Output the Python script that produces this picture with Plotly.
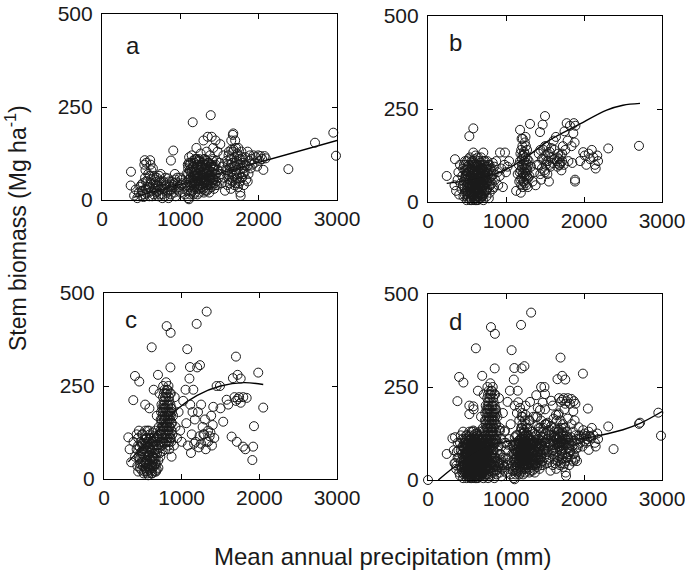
import plotly.graph_objects as go
from plotly.subplots import make_subplots

# ---------------- data ----------------
# Panel a: (mean annual precipitation mm, stem biomass Mg/ha)
a_points = [
    (370,76),(366,39),(410,12),(430,28),(450,5),(470,20),(490,35),(500,12),(510,25),(520,45),
    (530,8),(540,95),(545,107),(550,60),(555,80),(560,30),(565,100),(570,18),(580,50),(590,70),
    (600,35),(605,10),(615,107),(620,95),(625,55),(630,80),(640,25),(650,42),(660,15),(665,65),
    (675,30),(685,48),(695,20),(700,60),(710,38),(720,10),(730,52),(740,28),(750,70),(760,35),
    (775,15),(785,50),(800,30),(815,45),(830,20),(845,58),(860,35),(875,25),(880,106),(890,50),
    (905,40),(910,133),(920,20),(935,55),(950,30),(965,45),(980,25),(995,60),(1010,40),(1025,55),
    (1040,30),
    (1060,15),(1070,45),(1080,70),(1090,25),(1095,95),(1100,5),(1105,55),(1110,2),(1112,115),
    (1115,35),(1120,80),(1125,15),(1130,100),(1135,60),(1140,40),(1145,120),(1150,75),(1158,209),
    (1160,25),(1165,50),(1170,90),(1175,35),(1180,65),(1185,110),(1190,20),(1195,80),(1200,45),
    (1205,140),(1210,60),(1215,95),(1220,30),(1225,70),(1230,50),(1235,105),(1240,85),(1245,20),
    (1250,65),(1255,40),(1260,125),(1265,90),(1270,55),(1275,75),(1280,35),(1285,100),(1290,60),
    (1295,160),(1300,80),(1305,45),(1310,110),(1315,25),(1320,70),(1325,95),(1330,55),(1335,130),
    (1340,85),(1345,40),(1350,170),(1355,65),(1360,100),(1365,50),(1370,80),(1380,120),(1388,228),
    (1390,60),(1395,95),(1400,170),(1405,45),(1410,75),(1415,110),(1420,140),(1430,55),(1440,90),
    (1450,160),(1455,70),(1460,105),(1470,40),(1475,130),(1480,80),(1490,60),(1500,100),(1510,150),
    (1520,70),(1530,45),(1540,90),(1550,120),(1560,60),(1570,25),(1580,80),(1590,105),
    (1600,40),(1605,70),(1610,95),(1620,130),(1625,55),(1630,85),(1640,110),(1645,30),(1650,160),
    (1655,75),(1660,100),(1665,50),(1670,175),(1676,179),(1680,135),(1685,65),(1690,115),(1695,90),
    (1700,160),(1705,45),(1710,140),(1715,80),(1720,105),(1725,60),(1730,125),(1735,35),(1740,95),
    (1750,70),(1755,110),(1760,50),(1765,20),(1770,11),(1775,85),(1780,130),(1790,60),(1800,100),
    (1810,40),(1820,75),(1830,115),(1840,55),(1850,90),(1860,130),(1870,70),(1880,105),(1890,120),
    (1900,85),(1910,110),(1920,95),(1935,120),(1950,100),(1965,115),(1980,90),(1995,120),(2010,105),
    (2025,118),(2045,110),(2060,81),(2075,118),(2090,112),
    (2379,83),(2719,154),(2953,181),(2987,119),
    # dense middle cluster
    (1090,40),(1100,70),(1110,100),(1120,55),(1130,25),(1140,85),(1150,45),(1160,65),(1170,15),
    (1180,100),(1190,50),(1200,75),(1210,35),(1220,90),(1230,60),(1240,110),(1250,30),(1260,80),
    (1270,45),(1280,65),(1290,95),(1300,20),(1310,55),(1320,85),(1330,40),(1340,70),(1350,100),
    (1360,30),(1370,60),(1380,90),(1390,45),(1400,75),(1410,105),(1420,55),(1430,30),(1440,70),
    (1450,95),(1120,95),(1140,20),(1160,105),(1180,30),(1200,110),(1220,65),(1240,40),(1260,55),
    (1280,90),(1300,110),(1320,45),(1340,25),(1360,80),(1380,65),(1400,35),(1420,90),(1440,45),
    (1175,75),(1215,50),(1255,95),(1295,70),(1335,105),(1375,40),(1415,60),
    (1100,85),(1130,50),(1160,90),(1190,65),(1220,15),(1250,105),(1280,50),(1310,95),(1340,55),
    (1370,100),(1400,60),(1430,85),(1460,50),(1130,75),(1170,45),(1210,110),(1250,50),(1290,30),
    (1330,75),(1370,20),(1410,90),(1450,40),
    # dense left cluster
    (500,40),(520,25),(540,15),(560,50),(580,35),(600,20),(620,45),(640,10),(660,30),(680,55),
    (700,25),(720,40),(740,15),(760,50),(780,30),(800,10),(820,40),(840,25),(860,50),(880,15),
    (900,35),(920,45),(940,10),(960,60),(980,35),(1000,20),(1020,45),(610,65),(650,85),(690,40),
    (730,65),(770,5),(810,60),(850,5),(890,30),(930,70),
    # dense right cluster
    (1600,80),(1615,120),(1630,45),(1645,95),(1660,60),(1675,130),(1690,40),(1705,100),(1720,70),
    (1735,120),(1750,45),(1765,95),(1780,60),(1795,115),(1810,85),(1620,65),(1650,135),(1680,90),
    (1710,55),(1740,140),(1770,110),(1800,70),(1830,95),(1860,50),
]

b_points = [
    (240,70),(346,115),(530,177),(581,198),(709,133),(581,133),(923,133),(987,133),
    (340,45),(360,30),(380,60),(390,80),(400,20),(410,100),(420,50),(430,35),(440,70),(450,90),
    (455,15),(460,55),(470,40),(475,110),(480,25),(485,75),(490,60),(495,5),(500,45),(505,95),
    (510,30),(515,65),(520,15),(525,80),(530,50),(535,120),(540,35),(545,70),(550,10),(555,55),
    (560,90),(565,25),(570,40),(575,105),(580,65),(585,20),(590,50),(595,80),(600,10),(600,35),
    (605,60),(610,125),(612,95),(615,45),(620,20),(620,75),(625,5),(628,55),(630,100),(635,35),
    (640,65),(645,15),(648,85),(650,45),(655,110),(660,25),(665,60),(670,40),(675,90),(680,10),
    (685,70),(690,50),(695,30),(700,100),(705,60),(710,20),(715,80),(720,45),(730,110),(735,65),
    (740,30),(750,90),(760,55),(770,75),(780,40),(790,100),(800,65),(810,85),(820,50),(830,105),
    (840,75),(850,95),(860,60),(875,110),(890,80),(900,45),(920,70),(940,90),(960,40),(980,100),
    (1000,80),(1020,95),(1040,110),
    (540,20),(560,45),(580,30),(600,60),(620,40),(640,25),(660,50),(680,35),(700,15),(560,65),
    (590,15),(610,30),(630,15),(650,70),(670,20),(690,85),(610,5),(600,85),(575,55),(640,45),
    # dense blob
    (470,60),(490,85),(510,50),(530,100),(550,70),(570,55),(590,100),(610,70),(630,55),(650,95),
    (670,75),(690,65),(710,45),(730,80),(750,60),(770,100),(790,55),(500,20),(520,40),(540,85),
    (560,110),(580,85),(600,115),(620,100),(640,120),(660,90),(680,55),(700,75),(720,100),(740,70),
    (760,35),(780,85),(800,45),(450,45),(470,85),(490,30),(510,80),(530,25),(550,40),(570,75),
    (590,35),(610,55),(630,80),(650,25),(670,105),(690,15),(710,110),(730,50),(750,30),(480,100),
    (520,115),(560,5),(600,25),(640,5),(680,90),(720,25),(760,80),(620,85),(580,110),(540,60),
    (660,10),(700,40),
    (460,100),(480,70),(500,110),(520,60),(540,45),(560,80),(580,45),(600,95),(620,60),(640,85),
    (660,70),(680,120),(700,60),(720,85),(740,50),(760,95),(780,65),(800,90),(820,70),(840,40),
    (470,20),(510,10),(550,25),(590,5),(630,30),(670,50),(710,5),(750,15),(790,25),(830,35),
    (520,90),(560,20),(600,45),(640,100),(680,20),(720,60),(760,110),(500,75),(540,5),(580,15),
    (620,10),(660,35),(700,90),(740,95),(780,10),
    (1130,30),(1150,75),(1165,100),(1170,55),(1180,194),(1185,130),(1190,85),(1195,45),(1200,65),
    (1205,115),(1210,150),(1212,80),(1215,170),(1220,55),(1225,100),(1230,135),(1235,70),(1240,90),
    (1242,160),(1245,50),(1250,120),(1255,75),(1260,105),(1265,60),(1270,140),(1275,85),(1280,40),
    (1290,110),(1300,70),(1308,210),(1320,95),(1340,55),(1360,80),(1380,45),(1400,100),
    (1175,80),(1185,60),(1195,140),(1205,95),(1215,40),(1225,125),(1235,110),(1245,80),(1255,150),
    (1265,90),(1275,115),(1285,65),(1180,110),(1200,170),(1220,75),(1240,130),(1260,45),(1280,100),
    (1190,25),(1230,55),(1250,175),(1270,70),(1210,125),(1250,100),
    (1420,130),(1436,188),(1450,60),(1460,115),(1470,208),(1480,140),(1490,85),(1500,231),(1505,125),
    (1510,100),(1520,150),(1530,75),(1540,110),(1550,55),(1560,135),(1570,95),(1580,120),(1600,105),
    (1610,165),(1620,140),(1640,175),(1650,110),
    (1420,100),(1440,140),(1460,90),(1480,115),(1500,150),(1520,110),(1540,130),(1560,100),(1580,145),
    (1620,115),(1660,120),(1680,100),(1700,105),(1720,130),(1440,75),(1500,80),
    (1660,95),(1670,130),(1680,115),(1690,100),(1700,125),(1710,85),(1720,110),(1730,150),(1740,100),
    (1750,190),(1760,140),(1778,212),(1790,165),(1800,110),(1820,205),(1840,150),(1850,105),(1863,185),
    (1870,212),(1880,160),(1885,55),(1885,60),(1890,205),
    (1950,110),(1990,134),(2010,125),(2030,100),(2060,130),(2080,115),(2100,140),(2120,120),(2140,100),
    (2150,90),(2170,125),(2180,110),(2311,144),(2705,151),
]

c_points = [
    (313,112),(330,80),(350,45),(377,212),(380,100),(399,277),(400,60),(420,120),(430,35),(440,90),
    (450,130),(454,262),(460,55),(470,100),(480,25),(490,75),(500,120),(505,45),(510,15),(520,90),
    (525,60),(530,200),(535,30),(540,110),(545,75),(550,20),(555,50),(560,130),(565,95),(570,10),
    (575,65),(580,40),(585,190),(590,85),(595,25),(600,55),(605,110),(610,30),(614,354),(615,75),
    (620,15),(625,45),(630,100),(635,60),(640,240),(645,35),(650,80),(655,20),(660,130),(665,55),
    (670,90),(675,40),(680,170),(685,70),(690,110),(695,280),(700,50),(705,140),(710,85),(715,230),
    (720,100),(725,60),(730,160),(735,120),(740,200),(745,90),(750,140),(755,75),(760,180),(762,250),
    (765,110),(770,130),(775,210),(780,95),(785,160),(790,140),(795,190),(800,120),(805,230),(807,411),
    (810,170),(815,100),(820,150),(825,200),(830,130),(835,180),(840,80),(845,160),(850,140),(855,300),
    (858,393),(860,110),(865,190),(870,60),(875,150),(880,120),(890,170),(900,90),(910,220),(920,140),
    (940,110),(960,180),(980,130),(1000,100),(1020,210),(1050,240),(1060,150),(1072,349),(1080,90),
    (1100,270),(1107,301),(1110,200),(1120,70),(1130,120),(1140,180),(1150,240),(1160,95),(1170,160),
    (1180,100),(1193,417),(1200,300),(1210,180),(1220,85),(1236,306),(1250,200),(1270,140),(1290,120),
    (1300,160),(1320,100),(1322,450),(1340,130),(1360,115),(1380,170),(1400,145),(1407,194),(1420,110),
    (1450,250),(1493,250),(1500,190),(1535,154),(1579,213),(1600,200),(1643,114),(1660,271),(1680,220),
    (1699,329),(1710,100),(1720,280),(1740,220),(1760,270),(1790,87),(1793,220),(1820,80),(1837,218),
    (1910,51),(1920,87),(1931,142),(1986,286),(2050,192),
    (440,20),(460,85),(480,60),(500,35),(520,70),(540,50),(560,15),(580,100),(600,80),(620,60),
    (640,90),(660,40),(680,110),(700,30),(720,70),(560,75),(590,120),(610,95),(530,130),(470,70),
    (500,95),(620,35),(650,115),(580,25),(545,40),
    (740,150),(750,110),(760,140),(770,190),(780,170),(790,220),(800,150),(810,200),(820,240),(830,170),
    (840,210),(850,110),(860,230),(870,190),(780,240),(800,260),(760,220),(830,90),(850,180),(810,130),
    (790,160),(820,120),(840,100),
    (1250,95),(1280,120),(1310,80),(1340,100),(1370,125),(1390,90),(1230,115),(1700,210),(1720,215),
    (1760,205),
    # dense lower blob
    (420,80),(440,110),(460,30),(480,95),(500,65),(520,20),(540,95),(560,35),(580,60),(600,110),
    (620,85),(640,55),(660,100),(680,25),(700,90),(450,60),(470,40),(490,120),(510,80),(530,45),
    (550,110),(570,85),(590,50),(610,15),(630,125),(650,55),(670,20),(690,80),(560,100),(600,20),
    (640,110),(520,105),(480,45),(580,130),(620,50),(660,70),(700,115),(540,25),(590,70),(630,30),
    # dense column
    (725,130),(735,180),(745,120),(755,170),(765,200),(775,140),(785,110),(795,230),(805,180),(815,160),
    (825,130),(835,220),(845,120),(855,200),(865,150),(875,180),(730,100),(750,190),(770,160),(790,120),
    (810,240),(830,200),(850,160),(870,130),(760,100),(780,200),(800,100),(820,180),(840,140),(860,170),
    (745,160),(785,190),(825,160),(865,100),(805,140),(770,230),(830,250),(790,80),(810,110),(850,230),
]

d_extra_points = [(0,0)]

# fitted curves
a_fit_x = [400, 3000]
a_fit_y = [7, 160]
b_fit_x = [240, 500, 923, 1200, 1564, 1906, 2291, 2500, 2718]
b_fit_y = [50, 58, 80, 112, 167, 205, 247, 260, 265]
c_fit_x = [313, 600, 957, 1200, 1500, 1800, 2050]
c_fit_y = [46, 110, 190, 225, 250, 259, 254]
d_fit_x = [132, 400, 700, 1000, 1500, 2000, 2227, 2500, 2718, 3000]
d_fit_y = [0, 45, 85, 103, 110, 112, 121, 135, 152, 184]

panel_labels = ["a", "b", "c", "d"]
x_ticks = [0, 1000, 2000, 3000]
y_ticks = [0, 250, 500]

# ---------------- figure ----------------
fig = make_subplots(rows=2, cols=2)

d_points = a_points + b_points + c_points + d_extra_points
panels = [
    (a_points, a_fit_x, a_fit_y, 1, 1),
    (b_points, b_fit_x, b_fit_y, 1, 2),
    (c_points, c_fit_x, c_fit_y, 2, 1),
    (d_points, d_fit_x, d_fit_y, 2, 2),
]
for pts, fx, fy, r, c in panels:
    fig.add_trace(go.Scatter(
        x=fx, y=fy, mode="lines", line=dict(color="#000", width=1.4, shape="spline"),
        showlegend=False, hoverinfo="skip"), row=r, col=c)
    fig.add_trace(go.Scatter(
        x=[p[0] for p in pts], y=[p[1] for p in pts], mode="markers",
        marker=dict(symbol="circle-open", size=9, color="#1a1a1a", line=dict(width=1)),
        cliponaxis=False, showlegend=False, hoverinfo="skip"), row=r, col=c)

font_family = "Liberation Sans, Arial, sans-serif"
ax_common = dict(showline=True, linecolor="#000", linewidth=1.2, mirror="ticks",
                 ticks="inside", ticklen=5, tickwidth=1.2, tickcolor="#000",
                 showgrid=False, zeroline=False, automargin=False, ticklabeloverflow="allow",
                 tickfont=dict(family=font_family, size=21, color="#1a1a1a"))

x_domains = {1: [102/685, 337/685], 2: [428/685, 662/685], 3: [104/685, 337/685], 4: [428/685, 662/685]}
y_domains = {1: [(571-200)/571, (571-14)/571], 2: [(571-202)/571, (571-16)/571],
             3: [(571-479)/571, (571-293)/571], 4: [(571-480)/571, (571-294)/571]}

upd = {}
for i in range(1, 5):
    sfx = "" if i == 1 else str(i)
    upd["xaxis" + sfx] = dict(ax_common, domain=x_domains[i], range=[0, 3000],
                              tickvals=x_ticks, ticktext=[str(v) for v in x_ticks])
    upd["yaxis" + sfx] = dict(ax_common, domain=y_domains[i], range=[0, 500],
                              tickvals=y_ticks, ticktext=[str(v) for v in y_ticks],
                              ticklabelstandoff=4)
fig.update_layout(**upd)

annotations = []
label_pos = [(280, 416), (244, 428), (245, 428), (244, 426)]
for i, (lab, (lx, ly)) in enumerate(zip(panel_labels, label_pos), start=1):
    sfx = "" if i == 1 else str(i)
    annotations.append(dict(text=lab, x=lx, y=ly, xref="x" + sfx, yref="y" + sfx,
                            xanchor="left", yanchor="middle", showarrow=False,
                            font=dict(family=font_family, size=24, color="#1a1a1a")))
annotations.append(dict(text="Mean annual precipitation (mm)", x=383/685, y=(571-556)/571,
                        xref="paper", yref="paper", xanchor="center", yanchor="middle",
                        showarrow=False, font=dict(family=font_family, size=24, color="#1a1a1a")))
annotations.append(dict(text="Stem biomass (Mg ha<sup>-1</sup>)", x=16/685, y=(571-228)/571,
                        xref="paper", yref="paper", xanchor="center", yanchor="middle",
                        textangle=-90, showarrow=False,
                        font=dict(family=font_family, size=23, color="#1a1a1a")))

fig.update_layout(width=685, height=571, margin=dict(l=0, r=0, t=0, b=0),
                  paper_bgcolor="white", plot_bgcolor="white", annotations=annotations)

fig.write_html("out.html", config={"displayModeBar": False},
               post_script="document.body.style.margin='0';document.body.style.padding='0';"
                           "document.body.style.overflow='hidden';")
